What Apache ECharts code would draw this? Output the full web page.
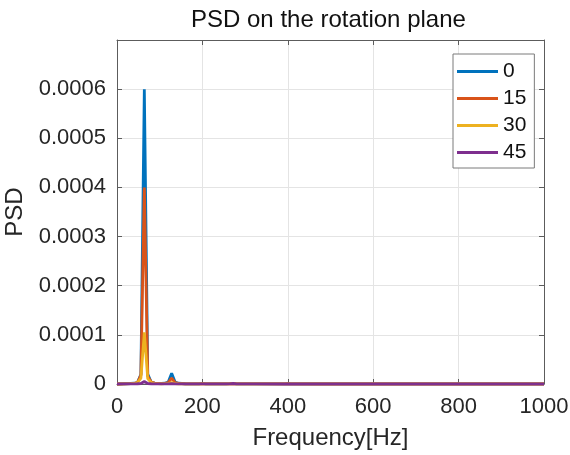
<!DOCTYPE html>
<html>
<head>
<meta charset="utf-8">
<script src="https://cdn.jsdelivr.net/npm/echarts@6/dist/echarts.min.js"></script>
<style>
  html, body { margin: 0; padding: 0; background: #fff; }
  #chart { width: 570px; height: 455px; }
</style>
</head>
<body>
<div id="chart"></div>
<script>
// Frequency bins (Hz) and power spectral density for each rotation angle
const freqHz = [0, 16, 32, 40, 48, 56, 64, 72, 80, 88, 96, 104, 112, 120, 128, 136, 144, 160, 192, 200, 208, 256, 264, 272, 280, 320, 392, 400, 408, 480, 600, 720, 800, 880, 1000];

const psd0 = [0, 0.0000005, 0.000001, 0.0000015, 0.000003, 0.00002, 0.0006, 0.00002, 0.000004, 0.000002, 0.0000012, 0.000001, 0.0000015, 0.000004, 0.000022, 0.000004, 0.0000015, 0.0000005, 0.0000004, 0.0000012, 0.0000004, 0.0000003, 0.0000006, 0.0000012, 0.0000004, 0.0000002, 0.0000002, 0.0000008, 0.0000002, 0.0000001, 0.0000001, 0.0000001, 0.0000001, 0.0000001, 0.0000001];
const psd15 = [0, 0.0000004, 0.0000008, 0.0000012, 0.000003, 0.000018, 0.0004, 0.000016, 0.000004, 0.0000018, 0.000001, 0.0000008, 0.0000012, 0.000003, 0.000012, 0.000003, 0.0000012, 0.0000004, 0.0000003, 0.0000008, 0.0000003, 0.0000002, 0.0000005, 0.000001, 0.0000003, 0.0000002, 0.0000001, 0.0000005, 0.0000001, 0.0000001, 0.0000001, 0.0000001, 0.0000001, 0.0000001, 0.0000001];
const psd30 = [0, 0.0000003, 0.0000006, 0.000001, 0.000003, 0.000012, 0.000105, 0.000011, 0.000003, 0.0000012, 0.0000007, 0.0000005, 0.0000006, 0.000001, 0.000003, 0.000001, 0.0000005, 0.0000002, 0.0000002, 0.0000004, 0.0000002, 0.0000001, 0.0000003, 0.0000006, 0.0000002, 0.0000001, 0.0000001, 0.0000003, 0.0000001, 0, 0, 0, 0, 0, 0];
const psd45 = [0, 0.0000001, 0.0000002, 0.0000003, 0.0000005, 0.000001, 0.000005, 0.000001, 0.0000005, 0.0000003, 0.0000002, 0.0000001, 0.0000001, 0.0000002, 0.0000006, 0.0000002, 0.0000001, 0.0000001, 0.0000001, 0.0000002, 0.0000001, 0.0000001, 0.0000004, 0.000001, 0.0000003, 0.0000001, 0, 0.0000001, 0, 0, 0, 0, 0, 0, 0];

const seriesNames = ['0', '15', '30', '45'];
const seriesValues = [psd0, psd15, psd30, psd45];
const seriesColors = ['#0072BD', '#D95319', '#EDB120', '#7E2F8E'];

const xTicks = { min: 0, max: 1000, interval: 200 };
const yTicks = { min: 0, max: 0.0007, interval: 0.0001 };

const FONT = '"Liberation Sans", Arial, Helvetica, sans-serif';
const TEXT = '#262626';
const AXIS = '#5c5c5c';
const GRID = '#e4e4e4';

const chart = echarts.init(document.getElementById('chart'), null, { renderer: 'canvas' });

const baseAxis = (extra) => Object.assign({
  type: 'value',
  axisLine: { show: true, onZero: false, lineStyle: { color: AXIS, width: 1 } },
  axisTick: { show: true, inside: true, length: 5, lineStyle: { color: AXIS, width: 1 } },
  splitLine: { show: false },
  axisLabel: { show: false }
}, extra);

const option = {
  animation: false,
  backgroundColor: '#ffffff',
  textStyle: { fontFamily: FONT },
  title: {
    text: 'PSD on the rotation plane',
    left: 186,
    top: 3,
    textStyle: { fontFamily: FONT, fontSize: 24, fontWeight: 'normal', color: '#111' }
  },
  grid: { left: 117, right: 26, top: 40, bottom: 71, containLabel: false, outerBoundsMode: 'none' },
  legend: {
    orient: 'vertical',
    left: 453,
    top: 54,
    padding: [7, 8, 5, 4],
    itemWidth: 41,
    itemHeight: 3,
    itemGap: 6,
    icon: 'rect',
    borderColor: '#7a7a7a',
    borderWidth: 1,
    backgroundColor: '#fff',
    textStyle: { fontFamily: FONT, fontSize: 21, lineHeight: 21, color: '#111' },
    data: seriesNames
  },
  xAxis: [
    baseAxis({
      position: 'bottom',
      min: xTicks.min, max: xTicks.max, interval: xTicks.interval,
      name: 'Frequency[Hz]',
      nameLocation: 'middle',
      nameGap: 42,
      nameTextStyle: { fontFamily: FONT, fontSize: 24, color: TEXT },
      splitLine: { show: true, lineStyle: { color: GRID, width: 1 } },
      axisLabel: {
        show: true, margin: 12, fontFamily: FONT, fontSize: 22, color: TEXT,
        formatter: (v) => String(v)
      }
    }),
    baseAxis({ position: 'top', min: xTicks.min, max: xTicks.max, interval: xTicks.interval })
  ],
  yAxis: [
    baseAxis({
      position: 'left',
      min: yTicks.min, max: yTicks.max, interval: yTicks.interval,
      name: 'PSD',
      nameLocation: 'middle',
      nameGap: 85,
      nameTextStyle: { fontFamily: FONT, fontSize: 24, color: TEXT },
      splitLine: { show: true, lineStyle: { color: GRID, width: 1 } },
      axisLabel: {
        show: true, margin: 11, fontFamily: FONT, fontSize: 22, color: TEXT,
        formatter: (v) => (v === 0 ? '0' : (v > 0.00065 ? '' : v.toFixed(4)))
      }
    }),
    baseAxis({ position: 'right', min: yTicks.min, max: yTicks.max, interval: yTicks.interval })
  ],
  series: seriesNames.map((name, i) => ({
    name: name,
    type: 'line',
    xAxisIndex: 0,
    yAxisIndex: 0,
    showSymbol: false,
    symbol: 'none',
    clip: false,
    z: 5,
    lineStyle: { color: seriesColors[i], width: 2.8 },
    itemStyle: { color: seriesColors[i] },
    data: freqHz.map((f, k) => [f, seriesValues[i][k]])
  }))
};

chart.setOption(option);
</script>
</body>
</html>
